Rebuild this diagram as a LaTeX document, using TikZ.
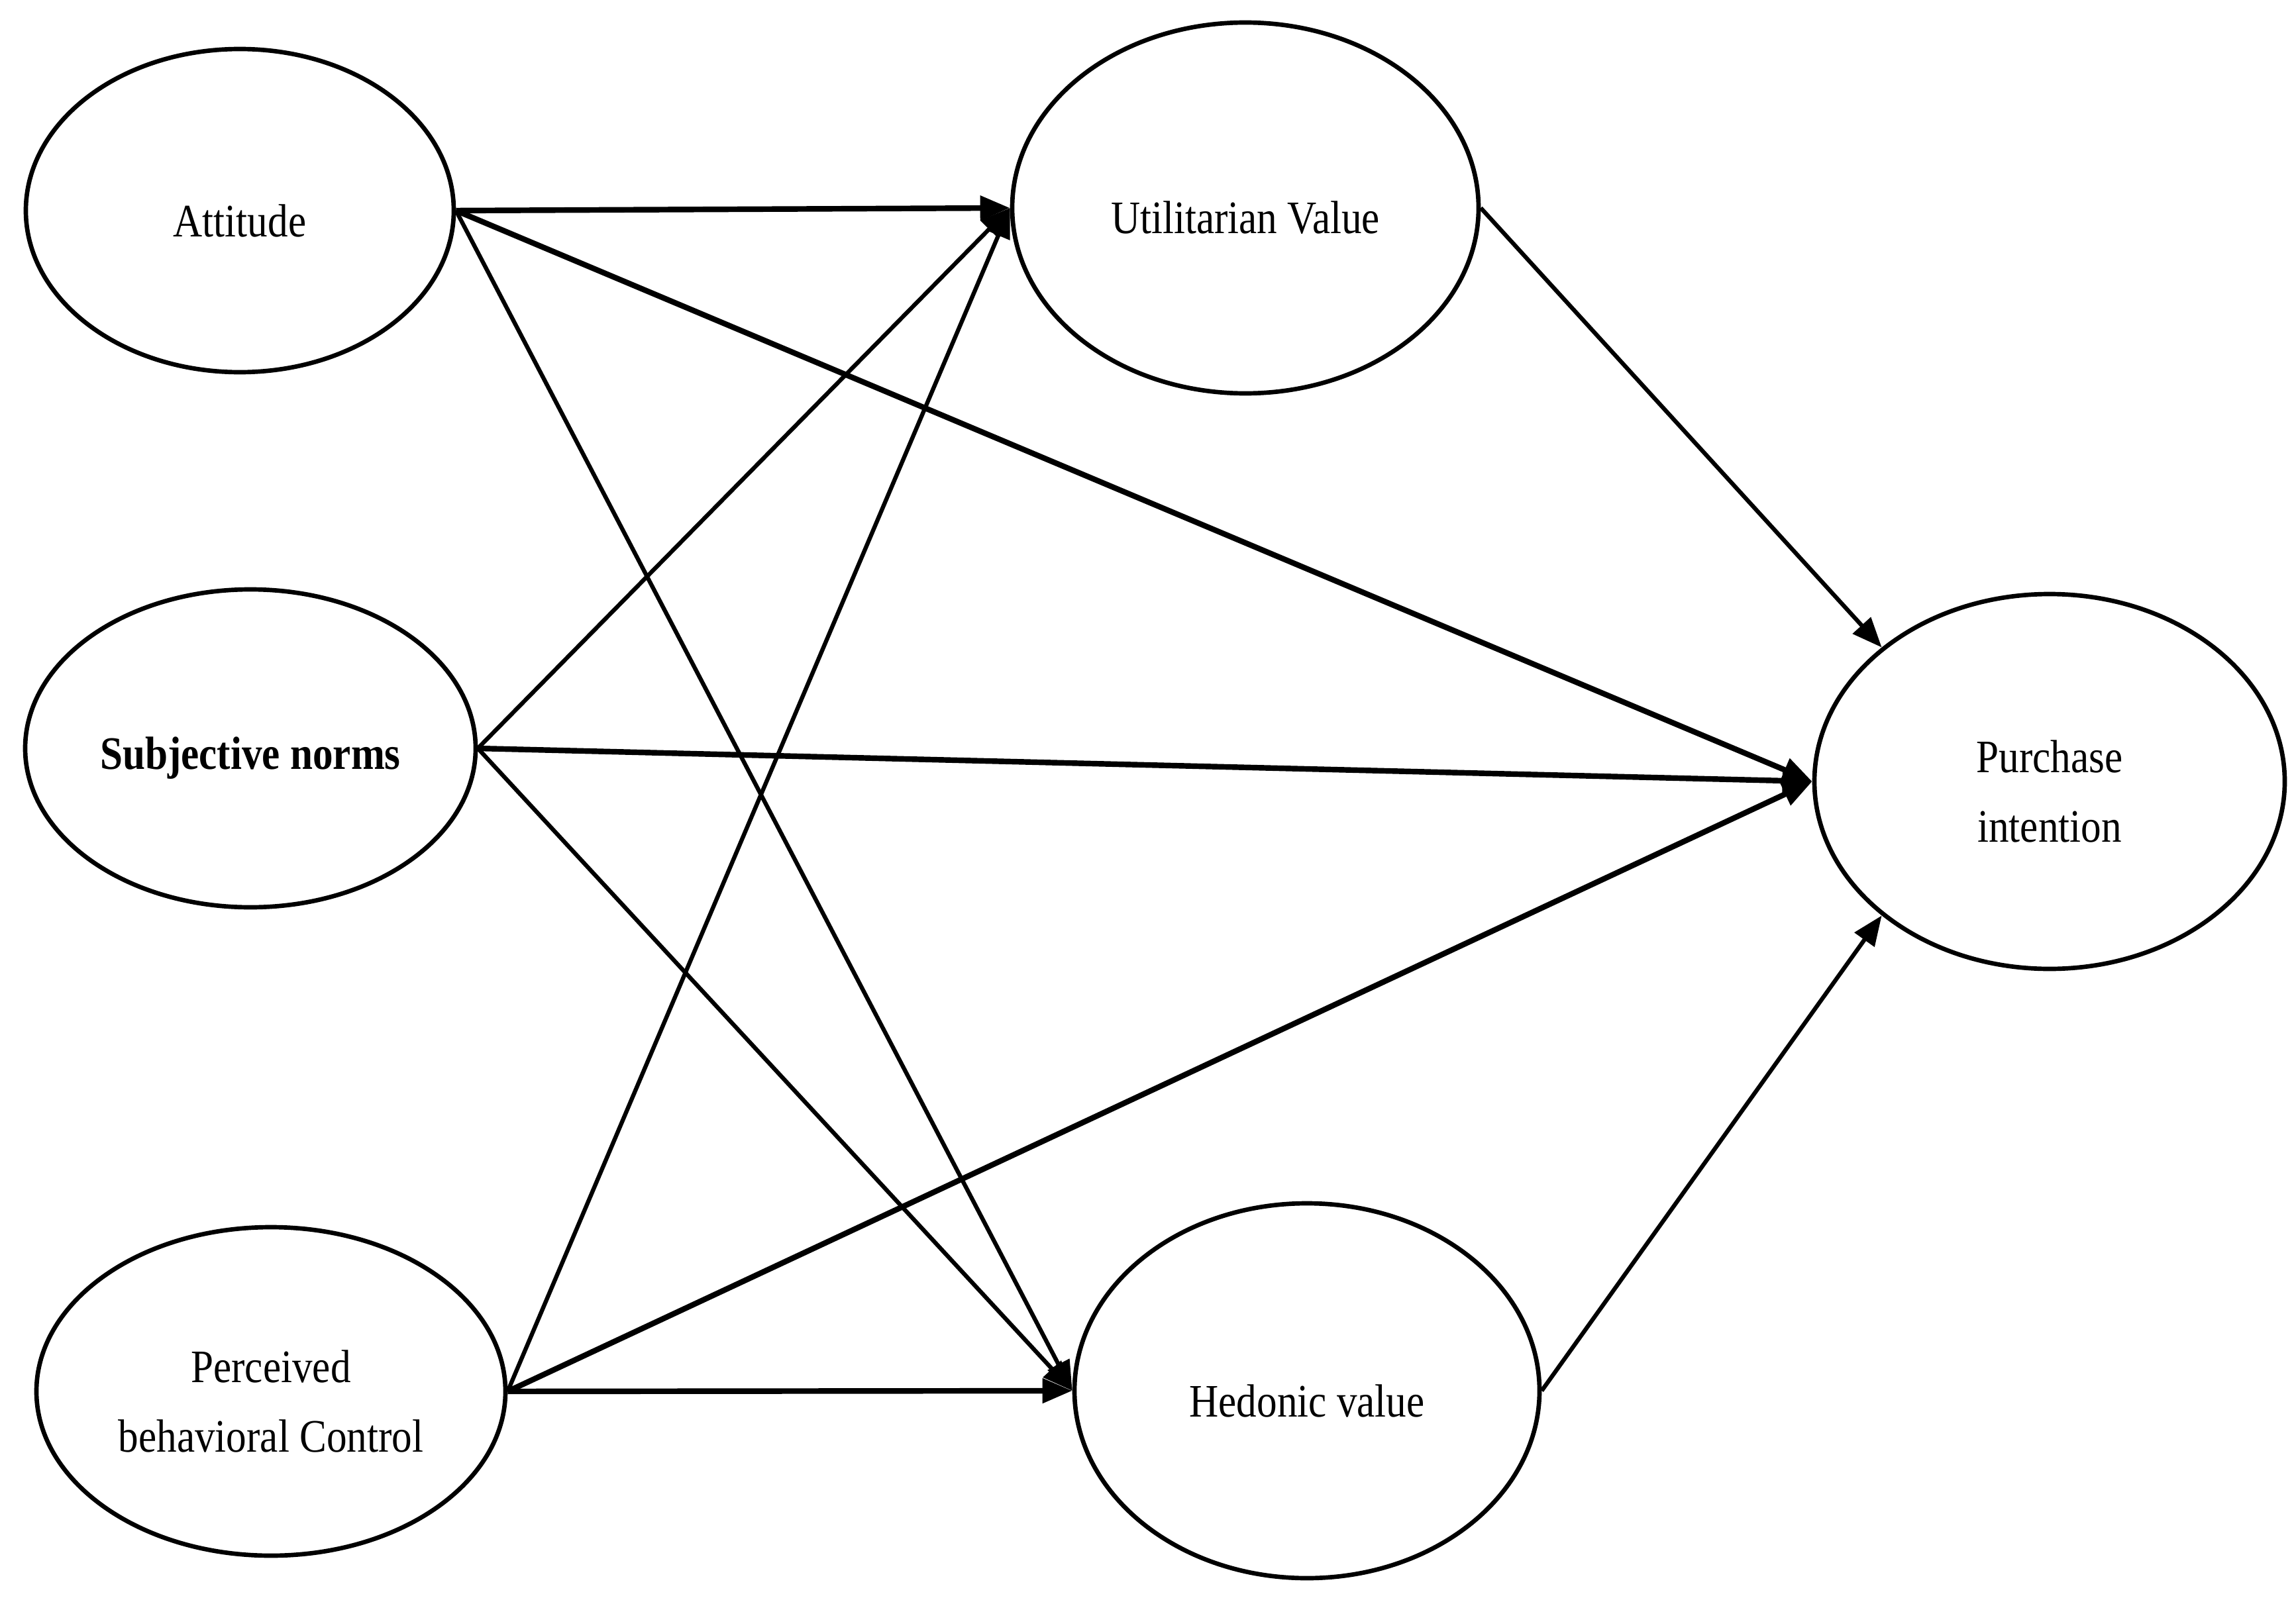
\documentclass[tikz,border=0pt]{standalone}
\usepackage{fontspec}
\setmainfont{Liberation Serif}[FakeStretch=0.87]
\usetikzlibrary{shapes.geometric,arrows.meta}
\begin{document}
\begin{tikzpicture}[
  construct/.style={draw=black, line width=1.9pt, ellipse, inner sep=0pt},
  textlab/.style={align=center, yshift=-0.15cm, font=\fontsize{20}{30}\selectfont},
  path/.style={draw=black, line width=1.8pt, -{Triangle[length=0.45cm,width=0.36cm]}},
  boldpath/.style={path, line width=2.4pt}
]
\useasboundingbox (0,0) rectangle (34.66,-24.19);
\node[construct, minimum width=6.46cm, minimum height=4.88cm,
  label={[textlab]center:Attitude}] (att) at (3.62,-3.18) {};
\node[construct, minimum width=7.04cm, minimum height=5.60cm,
  label={[textlab]center:Utilitarian Value}] (util) at (18.80,-3.14) {};
\node[construct, minimum width=6.80cm, minimum height=4.80cm,
  label={[textlab]center:\textbf{Subjective norms}}] (subj) at (3.78,-11.30) {};
\node[construct, minimum width=7.10cm, minimum height=5.66cm,
  label={[textlab]center:Purchase\\intention}] (pur) at (30.94,-11.80) {};
\node[construct, minimum width=7.08cm, minimum height=4.96cm,
  label={[textlab]center:Perceived\\behavioral Control}] (pbc) at (4.09,-21.01) {};
\node[construct, minimum width=7.02cm, minimum height=5.66cm,
  label={[textlab]center:Hedonic value}] (hed) at (19.73,-21.00) {};

\draw[boldpath] (att.east) -- (util.west);
\draw[boldpath] (att.east) -- (pur.west);
\draw[path] (att.east) -- (hed.west);
\draw[path] (subj.east) -- (util.west);
\draw[boldpath] (subj.east) -- (pur.west);
\draw[path] (subj.east) -- (hed.west);
\draw[path] (pbc.east) -- (util.west);
\draw[boldpath] (pbc.east) -- (pur.west);
\draw[boldpath] (pbc.east) -- (hed.west);
\draw[path] (util.east) -- (pur.north west);
\draw[path] (hed.east) -- (pur.south west);
\end{tikzpicture}
\end{document}
